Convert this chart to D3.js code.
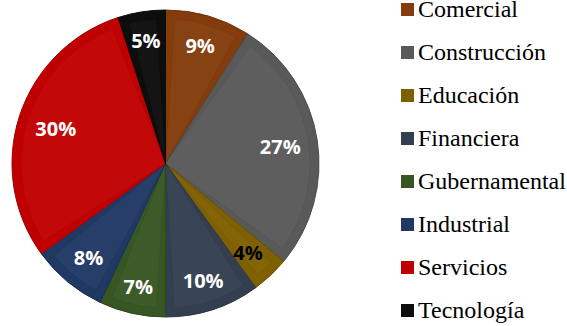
<!DOCTYPE html>
<html>
<head>
<meta charset="utf-8">
<script src="https://cdn.jsdelivr.net/npm/d3@7"></script>
</head>
<body style="margin:0">
<svg id="chart" width="567" height="326"></svg>
<script>
// Sector shares (percent), in legend order
const categories = ["Comercial", "Construcción", "Educación", "Financiera",
                    "Gubernamental", "Industrial", "Servicios", "Tecnología"];
const values = [9, 27, 4, 10, 7, 8, 30, 5];
const colors = ["#843C0C", "#595959", "#7F6000", "#333F50",
                "#375623", "#203864", "#C00000", "#0D0D0D"];
const labelColors = ["#fff", "#fff", "#000", "#fff", "#fff", "#fff", "#fff", "#fff"];

const data = categories.map((c, i) => ({ name: c, value: values[i], color: colors[i], labelColor: labelColors[i] }));

const svg = d3.select("#chart");
const cx = 165.5, cy = 163.5, R = 153.5;

const pie = d3.pie().value(d => d.value).sort(null).startAngle(0).endAngle(2 * Math.PI);
const arcs = pie(data);

const g = svg.append("g").attr("transform", `translate(${cx},${cy})`);

const arc = d3.arc().innerRadius(0).outerRadius(R);
// inset face of each wedge (bevel look): sides and rim offset inward by a constant distance
const inset = 9;
const arcInner = d3.arc().innerRadius(0).outerRadius(R - inset)
  .padAngle(2 * inset / R).padRadius(R);

g.selectAll("path.slice")
  .data(arcs)
  .join("path")
  .attr("class", "slice")
  .attr("d", arc)
  .attr("fill", d => d.data.color)
  .attr("stroke", d => d3.color(d.data.color).darker(0.5))
  .attr("stroke-width", 1);

g.selectAll("path.face")
  .data(arcs)
  .join("path")
  .attr("class", "face")
  .attr("d", arcInner)
  .attr("fill", "#fff")
  .attr("fill-opacity", 0.03)
  .attr("stroke", "#000")
  .attr("stroke-opacity", 0.05)
  .attr("stroke-width", 1);

// value labels, pushed outward until the text box nearly touches the rim
const edge = 138;
const labels = g.selectAll("text.val")
  .data(arcs)
  .join("text")
  .attr("class", "val")
  .attr("text-anchor", "middle")
  .attr("dominant-baseline", "central")
  .style("font-family", '"Open Sans"')
  .style("font-weight", 700)
  .attr("font-size", 20)
  .attr("fill", d => d.data.labelColor)
  .text(d => d.data.value + "%");

labels.each(function(d) {
  const bb = this.getBBox();
  const a = (d.startAngle + d.endAngle) / 2;
  const s = Math.sin(a), c = Math.cos(a);
  const ext = (bb.width / 2) * Math.abs(s) + (bb.height * 0.38) * Math.abs(c);
  const r = edge - ext;
  d3.select(this).attr("x", r * s).attr("y", -r * c + 1);
});

// legend
const rowH = 43;
data.forEach((d, i) => {
  const y = 17 + i * rowH;
  svg.append("rect")
    .attr("x", 401).attr("y", y - 14)
    .attr("width", 13).attr("height", 13)
    .attr("fill", d.color);
  svg.append("text")
    .attr("x", 418).attr("y", y)
    .style("font-family", '"Liberation Serif"')
    .attr("font-size", 24)
    .text(d.name);
});
</script>
</body>
</html>
